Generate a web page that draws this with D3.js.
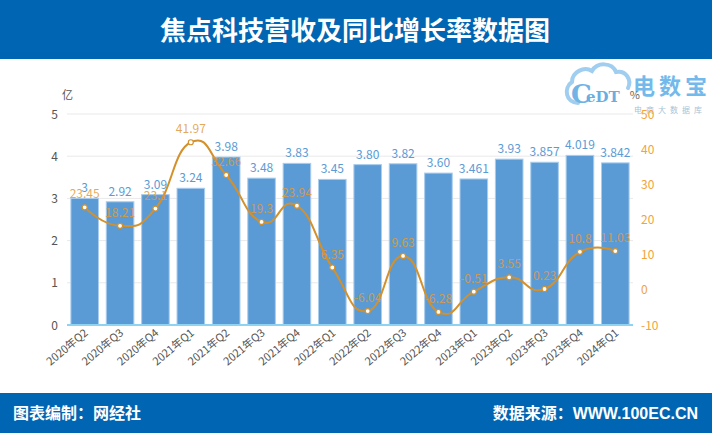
<!DOCTYPE html>
<html><head><meta charset="utf-8">
<script src="https://cdn.jsdelivr.net/npm/d3@7/dist/d3.min.js"></script>
<style>
html,body{margin:0;padding:0;background:#fff;}
svg{display:block;font-family:"Microsoft YaHei","Noto Sans CJK SC","Noto Sans",sans-serif;}
</style></head>
<body>
<svg id="c" width="712" height="433"></svg>
<script>
const categories = ["2020年Q2","2020年Q3","2020年Q4","2021年Q1","2021年Q2","2021年Q3","2021年Q4","2022年Q1","2022年Q2","2022年Q3","2022年Q4","2023年Q1","2023年Q2","2023年Q3","2023年Q4","2024年Q1"];
const revenue = [3, 2.92, 3.09, 3.24, 3.98, 3.48, 3.83, 3.45, 3.80, 3.82, 3.60, 3.461, 3.93, 3.857, 4.019, 3.842];
const revenueLabels = ["3","2.92","3.09","3.24","3.98","3.48","3.83","3.45","3.80","3.82","3.60","3.461","3.93","3.857","4.019","3.842"];
const growth = [23.45, 18.21, 23.1, 41.97, 32.66, 19.3, 23.94, 6.35, -6.04, 9.63, -6.28, -0.51, 3.55, 0.23, 10.8, 11.03];
const leftTicks = [0,1,2,3,4,5];
const rightTicks = [-10,0,10,20,30,40,50];
const title = "焦点科技营收及同比增长率数据图";
const footerLeft = "图表编制：网经社";
const footerRight = "数据来源：WWW.100EC.CN";

const svg = d3.select("#c");
const W = 712, H = 433;

// header
svg.append("rect").attr("x",0).attr("y",0).attr("width",W).attr("height",59).attr("fill","#0066b3");
svg.append("text").attr("x",355).attr("y",40).attr("text-anchor","middle")
  .attr("fill","#fff").attr("font-size",26).attr("font-weight","bold").text(title);

// footer
svg.append("rect").attr("x",0).attr("y",393).attr("width",W).attr("height",40).attr("fill","#0066b3");
svg.append("text").attr("x",13).attr("y",419).attr("fill","#fff").attr("font-size",16).attr("font-weight","bold")
  .style("font-family","'Liberation Sans','Noto Sans CJK SC',sans-serif").text(footerLeft);
svg.append("text").attr("x",698).attr("y",419).attr("text-anchor","end").attr("fill","#fff").attr("font-size",16).attr("font-weight","bold")
  .style("font-family","'Liberation Sans','Noto Sans CJK SC',sans-serif").text(footerRight);

// logo (watermark)
const logo = svg.append("g").attr("opacity",0.85);
logo.append("path")
  .attr("d","M578,103 C566,103 563,88 572,82 C572,72 584,66 592,71 C597,62 612,62 616,72 C626,70 632,80 628,88")
  .attr("fill","none").attr("stroke","#8fc6ee").attr("stroke-width",4).attr("stroke-linecap","round");
logo.append("text").attr("x",571).attr("y",103).attr("fill","#5aa6e2").attr("font-size",26).attr("font-weight","bold")
  .style("font-family","'DejaVu Serif',serif").text("C");
logo.append("text").attr("x",586).attr("y",102).attr("fill","#4f9fdc").attr("font-size",15).attr("font-weight","bold")
  .style("font-family","'DejaVu Serif',serif").text("eDT");
logo.append("text").attr("x",633).attr("y",94).attr("fill","#5aaee8").attr("font-size",22).attr("font-weight","bold")
  .attr("letter-spacing",4).text("电数宝");
logo.append("text").attr("x",634).attr("y",113).attr("fill","#9ab8d0").attr("font-size",8)
  .attr("letter-spacing",4).text("电商大数据库");

// scales
const x = d3.scaleBand().domain(categories).range([67,633]).paddingInner(0.22).paddingOuter(0.11);
const yL = d3.scaleLinear().domain([0,5]).range([325,114]);
const yR = d3.scaleLinear().domain([-10,50]).range([325,114]);

// grid
svg.append("g").selectAll("line").data(leftTicks.slice(1)).join("line")
  .attr("x1",67).attr("x2",633).attr("y1",d=>yL(d)).attr("y2",d=>yL(d))
  .attr("stroke","#e9e9e9").attr("stroke-width",1);

// left axis labels
svg.append("g").selectAll("text").data(leftTicks).join("text")
  .attr("x",58).attr("y",d=>yL(d)+4.5).attr("text-anchor","end")
  .attr("fill","#555").attr("font-size",12).text(d=>d);
svg.append("text").attr("x",62).attr("y",99).attr("fill","#555").attr("font-size",11).text("亿");

// right axis labels
svg.append("g").selectAll("text").data(rightTicks).join("text")
  .attr("x",641).attr("y",d=>yR(d)+4.5).attr("text-anchor","start")
  .attr("fill","#f2a33a").attr("font-size",12).text(d=>d);
svg.append("text").attr("x",640).attr("y",99).attr("text-anchor","end").attr("fill","#666").attr("font-size",11).text("%");

// bars
svg.append("g").selectAll("rect").data(revenue).join("rect")
  .attr("x",(d,i)=>x(categories[i])).attr("width",x.bandwidth())
  .attr("y",d=>yL(d)).attr("height",d=>yL(0)-yL(d))
  .attr("fill","#5b9bd5").attr("stroke","#a8cdee").attr("stroke-width",1);

// bar labels
svg.append("g").selectAll("text").data(revenue).join("text")
  .attr("x",(d,i)=>x(categories[i])+x.bandwidth()/2).attr("y",d=>yL(d)-6)
  .attr("text-anchor","middle").attr("fill","#5b9bd5").attr("font-size",12)
  .text((d,i)=>revenueLabels[i]);

// x axis line
svg.append("line").attr("x1",67).attr("x2",633).attr("y1",325).attr("y2",325)
  .attr("stroke","#8fd3f2").attr("stroke-width",2);

// x labels
svg.append("g").selectAll("text").data(categories).join("text")
  .attr("transform",d=>`translate(${x(d)+x.bandwidth()/2+4},${334}) rotate(-40)`)
  .attr("text-anchor","end").attr("fill","#555").attr("font-size",11).text(d=>d);

// line
const cx = (d,i)=>x(categories[i])+x.bandwidth()/2;
const line = d3.line().x(cx).y(d=>yR(d)).curve(d3.curveCardinal.tension(-0.5));
svg.append("path").datum(growth).attr("d",line).attr("fill","none")
  .attr("stroke","#d4902a").attr("stroke-width",2);
svg.append("g").selectAll("circle").data(growth).join("circle")
  .attr("cx",cx).attr("cy",d=>yR(d)).attr("r",2.5)
  .attr("fill","#fff").attr("stroke","#d4902a").attr("stroke-width",1.2);
svg.append("g").selectAll("text").data(growth).join("text")
  .attr("x",cx).attr("y",d=>yR(d)-9).attr("text-anchor","middle")
  .attr("fill","#e09a3a").attr("fill-opacity",0.85).attr("font-size",12).text(d=>d);
</script>
</body></html>
